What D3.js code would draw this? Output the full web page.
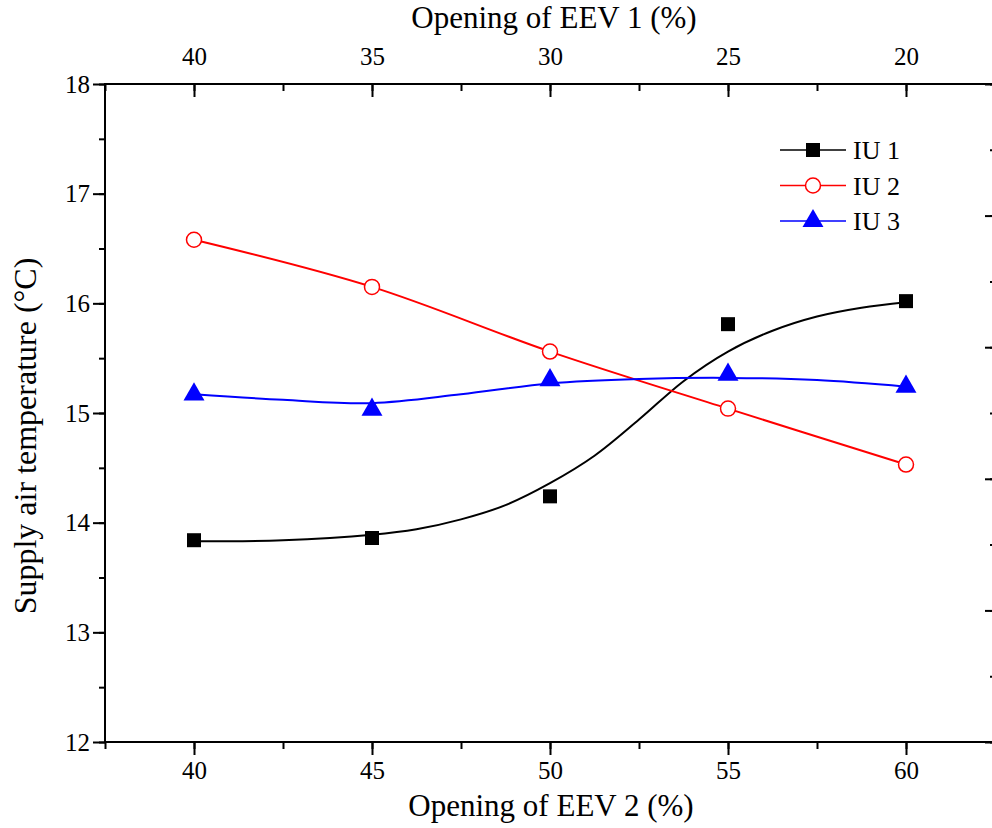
<!DOCTYPE html>
<html>
<head>
<meta charset="utf-8">
<script src="https://cdn.jsdelivr.net/npm/d3@7"></script>
<style>
  html, body { margin: 0; padding: 0; background: #fff; }
  svg { display: block; }
  text { font-family: "Liberation Serif", "Times New Roman", serif; fill: #000; }
</style>
</head>
<body>
<svg id="chart" width="992" height="828"></svg>
<script>
// ---- data ----
const eev2 = [40, 45, 50, 55, 60];            // bottom axis values
const eev1Ticks = [40, 35, 30, 25, 20];       // top axis tick labels
const iu1 = [13.84, 13.86, 14.24, 15.81, 16.02];
const iu2 = [16.58, 16.15, 15.56, 15.04, 14.53];
const iu3 = [15.17, 15.03, 15.30, 15.35, 15.24];
// fitted curves
const fitX1 = [40, 42.5, 45, 46.25, 47.5, 48.75, 50, 51.25, 52.5, 53.75, 55, 56.25, 57.5, 58.75, 60];
const fitIu1 = [13.83, 13.84, 13.89, 13.94, 14.03, 14.16, 14.36, 14.61, 14.94, 15.29, 15.56, 15.75, 15.88, 15.96, 16.01];
const fitX3 = [40, 42.5, 45, 47.5, 50, 52.5, 55, 57.5, 60];
const fitIu3 = [15.17, 15.12, 15.09, 15.17, 15.27, 15.31, 15.32, 15.30, 15.24];
const yTicks = [12, 13, 14, 15, 16, 17, 18];
const seriesNames = ["IU 1", "IU 2", "IU 3"];
const seriesColors = ["#000000", "#ff0000", "#0000ff"];

// ---- layout ----
const svg = d3.select("#chart");
const L = 105, R = 995, T = 84, B = 742;

const x = d3.scaleLinear().domain([37.5, 62.5]).range([L, R]);
const xTop = d3.scaleLinear().domain([42.5, 17.5]).range([L, R]);
const y = d3.scaleLinear().domain([12, 18]).range([B, T]);
const yRight = d3.scaleLinear().domain([0, 5]).range([B, T]);

const axisFont = "25px";

// Bottom axis
svg.append("g").attr("transform", `translate(0,${B})`)
  .call(d3.axisBottom(x).tickValues(d3.range(37.5, 62.51, 2.5)).tickSize(7).tickFormat(""))
  .call(g => g.select(".domain").remove())
  .call(g => g.selectAll(".tick line").attr("stroke-width", 2));
svg.append("g").attr("transform", `translate(0,${B})`)
  .call(d3.axisBottom(x).tickValues(eev2).tickSize(13).tickPadding(6).tickFormat(d3.format("d")))
  .call(g => g.select(".domain").remove())
  .call(g => g.selectAll(".tick line").attr("stroke-width", 2))
  .call(g => g.selectAll("text").style("font-size", axisFont).style("font-family", "Liberation Serif"));

// Top axis (inward ticks)
svg.append("g").attr("transform", `translate(0,${T})`)
  .call(d3.axisBottom(xTop).tickValues(d3.range(17.5, 42.51, 2.5)).tickSize(7).tickFormat(""))
  .call(g => g.select(".domain").remove())
  .call(g => g.selectAll(".tick line").attr("stroke-width", 2));
svg.append("g").attr("transform", `translate(0,${T})`)
  .call(d3.axisTop(xTop).tickValues(eev1Ticks).tickSize(0).tickPadding(19).tickFormat(d3.format("d")))
  .call(g => g.select(".domain").remove())
  .call(g => g.selectAll("text").style("font-size", axisFont).style("font-family", "Liberation Serif"));
svg.append("g").attr("transform", `translate(0,${T})`)
  .call(d3.axisBottom(xTop).tickValues(eev1Ticks).tickSize(13).tickFormat(""))
  .call(g => g.select(".domain").remove())
  .call(g => g.selectAll(".tick line").attr("stroke-width", 2));

// Left axis
svg.append("g").attr("transform", `translate(${L},0)`)
  .call(d3.axisLeft(y).tickValues(d3.range(12, 18.01, 0.5)).tickSize(6).tickFormat(""))
  .call(g => g.select(".domain").remove())
  .call(g => g.selectAll(".tick line").attr("stroke-width", 2));
svg.append("g").attr("transform", `translate(${L},0)`)
  .call(d3.axisLeft(y).tickValues(yTicks).tickSize(12).tickPadding(3).tickFormat(d3.format("d")))
  .call(g => g.select(".domain").remove())
  .call(g => g.selectAll(".tick line").attr("stroke-width", 2))
  .call(g => g.selectAll("text").style("font-size", axisFont).style("font-family", "Liberation Serif"));

// Right axis (inward ticks, no labels)
svg.append("g").attr("transform", `translate(${R},0)`)
  .call(d3.axisLeft(yRight).tickValues(d3.range(0, 5.01, 0.5)).tickSize(5).tickFormat(""))
  .call(g => g.select(".domain").remove())
  .call(g => g.selectAll(".tick line").attr("stroke-width", 2));
svg.append("g").attr("transform", `translate(${R},0)`)
  .call(d3.axisLeft(yRight).tickValues(d3.range(0, 5.01, 1)).tickSize(10).tickFormat(""))
  .call(g => g.select(".domain").remove())
  .call(g => g.selectAll(".tick line").attr("stroke-width", 2));

// Frame
svg.append("rect").attr("x", L).attr("y", T).attr("width", R - L).attr("height", B - T)
  .attr("fill", "none").attr("stroke", "#000").attr("stroke-width", 2);

// Titles
svg.append("text").attr("x", 551).attr("y", 816).attr("text-anchor", "middle")
  .style("font-size", "31px").text("Opening of EEV 2 (%)");
svg.append("text").attr("x", 554).attr("y", 28).attr("text-anchor", "middle")
  .style("font-size", "31px").text("Opening of EEV 1 (%)");
svg.append("text").attr("transform", `translate(36,436) rotate(-90)`)
  .attr("text-anchor", "middle").style("font-size", "32px").text("Supply air temperature (\u00B0C)");

// Curves
const line = d3.line().x(d => x(d[0])).y(d => y(d[1]));
const plot = svg.append("g");
plot.append("path").datum(fitX1.map((v, i) => [v, fitIu1[i]]))
  .attr("d", line.curve(d3.curveCatmullRom)).attr("fill", "none")
  .attr("stroke", seriesColors[0]).attr("stroke-width", 2);
plot.append("path").datum(eev2.map((v, i) => [v, iu2[i]]))
  .attr("d", line.curve(d3.curveCatmullRom)).attr("fill", "none")
  .attr("stroke", seriesColors[1]).attr("stroke-width", 2);
plot.append("path").datum(fitX3.map((v, i) => [v, fitIu3[i]]))
  .attr("d", line.curve(d3.curveCatmullRom)).attr("fill", "none")
  .attr("stroke", seriesColors[2]).attr("stroke-width", 2);

// Markers
const sq = d3.symbol().type(d3.symbolSquare).size(196);
const tri = d3.symbol().type(d3.symbolTriangle).size(190);
function drawMarker(g, kind, cx, cy) {
  if (kind === 0) {
    g.append("path").attr("d", sq()).attr("transform", `translate(${cx},${cy})`).attr("fill", "#000");
  } else if (kind === 1) {
    g.append("circle").attr("cx", cx).attr("cy", cy).attr("r", 7.5)
      .attr("fill", "#fff").attr("stroke", "#ff0000").attr("stroke-width", 1.5);
  } else {
    g.append("path").attr("d", tri()).attr("transform", `translate(${cx},${cy})`).attr("fill", "#0000ff");
  }
}
[iu1, iu2, iu3].forEach((s, k) => {
  s.forEach((v, i) => drawMarker(plot, k, x(eev2[i]), y(v)));
});

// Legend
const legend = svg.append("g");
seriesNames.forEach((name, k) => {
  const ly = 150 + k * 35.5;
  legend.append("line").attr("x1", 780).attr("x2", 846).attr("y1", ly).attr("y2", ly)
    .attr("stroke", seriesColors[k]).attr("stroke-width", 1.5);
  drawMarker(legend, k, 813, ly);
  legend.append("text").attr("x", 853).attr("y", ly + 9).style("font-size", "26px").text(name);
});
</script>
</body>
</html>
